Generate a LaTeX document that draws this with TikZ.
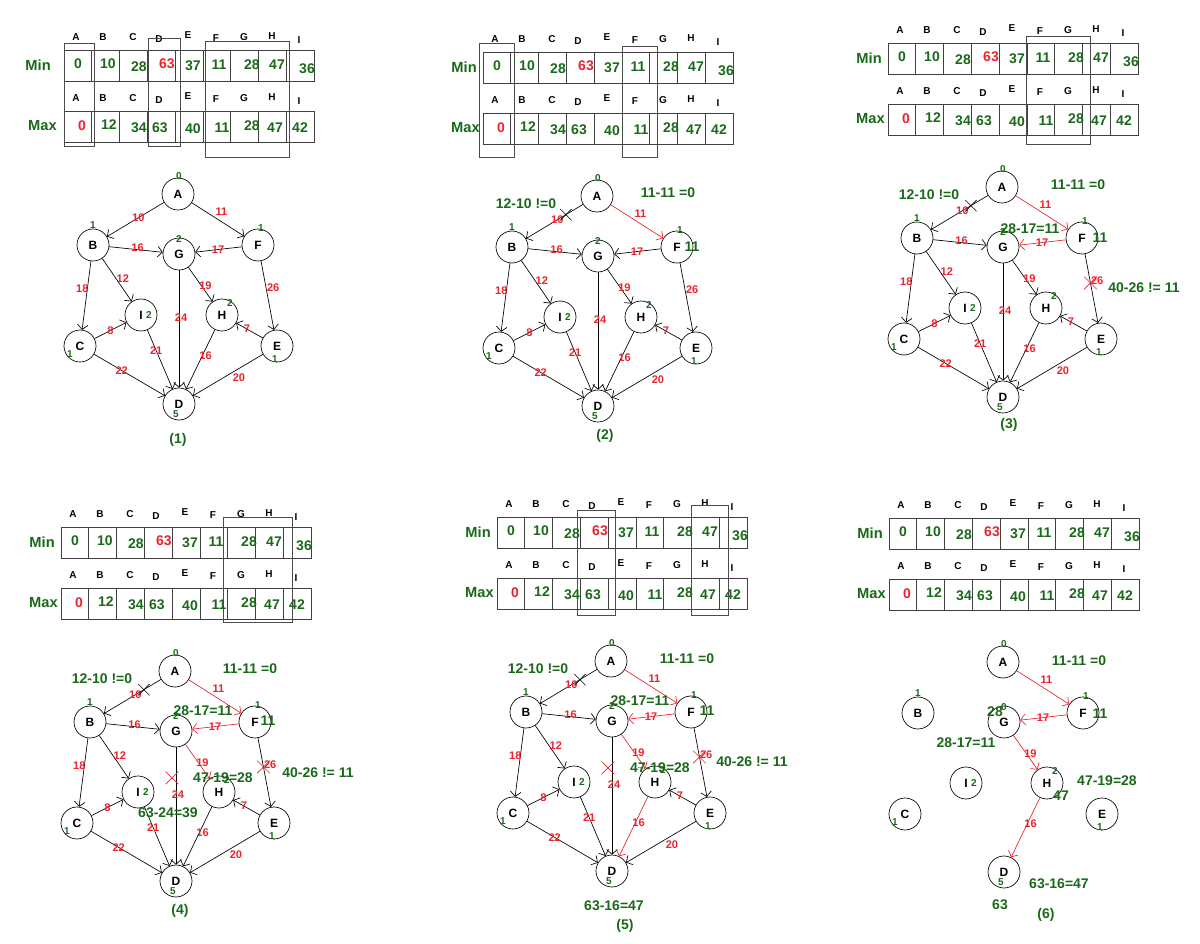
\documentclass[tikz,border=0pt]{standalone}
\usepackage{fontspec}
\setmainfont{Liberation Sans}
\usepackage{xcolor}
\usepackage{tikz}
\usetikzlibrary{arrows.meta,shapes.misc}

\definecolor{vgreen}{RGB}{25,105,25}
\definecolor{vred}{RGB}{235,35,45}

% colours of the edges on the critical path (set per panel)
\newcommand{\cAF}{black}
\newcommand{\cFG}{black}
\newcommand{\cGH}{black}
\newcommand{\cHD}{black}
\newcommand{\pn}{p1}
\newcommand{\minx}{-6}
\newcommand{\maxx}{-3}
\newcommand{\gnum}{2}

\tikzset{
  vert/.style={circle, draw, line width=0.5pt, minimum size=24pt, inner sep=0pt,
    font=\fontsize{9}{10}\selectfont\bfseries},
  deg/.style={text=vgreen, inner sep=0pt, font=\fontsize{7.5}{8}\selectfont\bfseries},
  link/.style={->, line width=0.5pt},
  elab/.style={text=vred, inner sep=0pt, font=\fontsize{8.3}{9}\selectfont\bfseries},
  cell/.style={draw=black!75, line width=0.5pt},
  hl/.style={draw=black!70, line width=0.5pt},
  hdr/.style={inner sep=0pt, font=\fontsize{7.5}{8}\selectfont\bfseries},
  val/.style={text=vgreen, inner sep=0pt, font=\fontsize{10.5}{12}\selectfont\bfseries},
  rowlab/.style={text=vgreen, inner sep=0pt, font=\fontsize{11}{12}\selectfont\bfseries},
  ann/.style={text=vgreen, inner sep=0pt, font=\fontsize{10.5}{12}\selectfont\bfseries},
  captxt/.style={text=vgreen, inner sep=0pt, font=\fontsize{10.5}{12}\selectfont\bfseries},
  xmark/.style={cross out, draw=vred, line width=0.5pt, minimum size=9pt, inner sep=0pt},
}

% Min / Max tables
\newcommand{\minmaxtables}{%
  \foreach \ry/\rn/\lx in {0/Min/\minx, 61/Max/\maxx}{
    \draw[cell] (0,\ry) rectangle (250,\ry+31);
    \foreach \k in {1,3,5,7}
      \draw[cell] ({27.78*\k},\ry) rectangle ({27.78*(\k+1)},\ry+31);
    \node[rowlab, anchor=east] (\pn\rn) at (\lx,\ry+15) {\rn};
    \foreach \l/\x/\dy in {A/12/0,B/39/0,C/69/0,D/95/2,E/124/-2,F/152/1,G/180/0,H/208/-1,I/235/3}
      \node[hdr] (\pn\rn\l) at (\x,\ry-13+\dy) {\l};
  }
  \foreach \v/\x/\y [count=\i] in {0/14/14, 10/44/14, 28/75/17, \textcolor{vred}{63}/103/14,
      37/129/16, 11/155/15, 28/188/15, 47/213/15, 36/243/19}
    \node[val] (\pn vmin\i) at (\x,\y) {\v};
  \foreach \v/\x/\y [count=\i] in {\textcolor{vred}{0}/18/76, 12/45/75, 34/75/78, 63/96/78,
      40/129/79, 11/158/78, 28/188/76, 47/211/78, 42/236/78}
    \node[val] (\pn vmax\i) at (\x,\y) {\v};
}

% the nine vertices with their in-degrees
\newcommand{\graphnodes}{%
  \foreach \n/\x/\y in {A/114/144, B/29/195, G/115/204, F/194/195, I/77/265,
      H/158/265, C/16/296, E/213/296, D/115/354}
    \node[vert] (\pn\n) at (\x,\y) {\n};
  \foreach \n/\dx/\dy/\k in {A/1/-18/0, B/0/-20/1, F/3/-17/1, G/0/-15/\gnum, I/8/0/2,
      H/8/-12/2, C/-10/8/1, E/-2/13/1, D/-3/10/5}
    \node[deg] (\pn d\n) at ([shift={(\dx,\dy)}]\pn\n) {\k};
}

% all fifteen weighted edges
\newcommand{\alledges}{%
  \foreach \ea/\eb/\w/\ps/\ec/\dx/\dy/\q [count=\i] in {%
      A/B/10/.45/black/0/0/.3,
      A/F/11/.47/\cAF/5/7/.5,
      B/G/16/.53/black/0/2/.5,
      F/G/17/.51/\cFG/0/0/.5,
      B/I/12/.53/black/5/3/.5,
      B/C/18/.40/black/-5/0/.5,
      G/H/19/.58/\cGH/3/2/.5,
      F/E/26/.40/black/7/1/.42,
      G/D/24/.40/black/2/0/.26,
      C/I/8/.50/black/0/0/.5,
      I/D/21/.35/black/0/0/.5,
      H/D/16/.43/\cHD/3/0/.5,
      E/H/7/.60/black/0/0/.5,
      C/D/22/.39/black/0/0/.5,
      E/D/20/.40/black/4/-7/.5}
    \draw[link, draw=\ec] (\pn\ea) -- coordinate[pos=\q] (\pn c\i)
      node[elab, pos=\ps, xshift={\dx*0.75pt}, yshift={\dy*0.75pt}] (\pn w\i) {\w} (\pn\eb);
}

\begin{document}
\begin{tikzpicture}[x=0.75pt, y=-0.75pt, >={Straight Barb[length=3.5pt,width=8pt]}]
\useasboundingbox (0,0) rectangle (1200,944);

% (1) start
\begin{scope}[shift={(64,50)}]
  \def\pn{p1}\def\minx{-13}\def\maxx{-7}
  \minmaxtables
  \draw[hl] (0,-7) rectangle (30,96);
  \draw[hl] (84,-12) rectangle (116,96);
  \draw[hl] (141,-9) rectangle (225,107);
  \graphnodes
  \alledges
  \node[captxt] (p1cap) at (114,390) {(1)};
\end{scope}

% (2) A -> F
\begin{scope}[shift={(483,52)}]
  \def\pn{p2}\def\cAF{vred}
  \minmaxtables
  \draw[hl] (-4,-9) rectangle (31,105);
  \draw[hl] (139,-6) rectangle (174,105);
  \graphnodes
  \alledges
  \node[xmark, draw=black, minimum size=8pt] (p2k1) at (p2c1) {};
  \node[ann] (p2n1) at (43,152) {12-10 !=0};
  \node[ann] (p2n2) at (185,141) {11-11 =0};
  \node[ann] (p2n3) at (209,195) {11};
  \node[captxt] (p2cap) at (122,384) {(2)};
\end{scope}

% (3) F -> G
\begin{scope}[shift={(888,43)}]
  \def\pn{p3}\def\cAF{vred}\def\cFG{vred}
  \minmaxtables
  \draw[hl] (138,-7) rectangle (202,101);
  \graphnodes
  \alledges
  \node[xmark, draw=black, minimum size=8pt] (p3k1) at (p3c1) {};
  \node[xmark] (p3k2) at (p3c8) {};
  \node[ann] (p3n1) at (41,152) {12-10 !=0};
  \node[ann] (p3n2) at (190,142) {11-11 =0};
  \node[ann] (p3n3) at (142,186) {28-17=11};
  \node[ann] (p3n4) at (212,195) {11};
  \node[ann] (p3n5) at (256,245) {40-26 != 11};
  \node[captxt] (p3cap) at (121,382) {(3)};
\end{scope}

% (4) G -> H
\begin{scope}[shift={(61,527)}]
  \def\pn{p4}\def\cAF{vred}\def\cFG{vred}\def\cGH{vred}
  \minmaxtables
  \draw[hl] (162,-10) rectangle (231,95);
  \graphnodes
  \alledges
  \node[xmark, draw=black, minimum size=8pt] (p4k1) at (p4c1) {};
  \node[xmark] (p4k2) at (p4c8) {};
  \node[xmark] (p4k3) at ([xshift=-3pt]p4c9) {};
  \node[ann] (p4n1) at (41,152) {12-10 !=0};
  \node[ann] (p4n2) at (189,142) {11-11 =0};
  \node[ann] (p4n3) at (142,184) {28-17=11};
  \node[ann] (p4n4) at (207,194) {11};
  \node[ann] (p4n5) at (257,246) {40-26 != 11};
  \node[ann] (p4n6) at (162,251) {47-19=28};
  \node[ann] (p4n7) at (107,286) {63-24=39};
  \node[captxt] (p4cap) at (119,384) {(4)};
\end{scope}

% (5) H -> D
\begin{scope}[shift={(497,517)}]
  \def\pn{p5}\def\cAF{vred}\def\cFG{vred}\def\cGH{vred}\def\cHD{vred}
  \minmaxtables
  \draw[hl] (80,-7) rectangle (118,98);
  \draw[hl] (194,-12) rectangle (231,98);
  \graphnodes
  \alledges
  \node[xmark, draw=black, minimum size=8pt] (p5k1) at (p5c1) {};
  \node[xmark] (p5k2) at (p5c8) {};
  \node[xmark] (p5k3) at ([xshift=-3pt]p5c9) {};
  \node[ann] (p5n1) at (41,152) {12-10 !=0};
  \node[ann] (p5n2) at (190,142) {11-11 =0};
  \node[ann] (p5n3) at (143,184) {28-17=11};
  \node[ann] (p5n4) at (210,194) {11};
  \node[ann] (p5n5) at (255,245) {40-26 != 11};
  \node[ann] (p5n6) at (163,251) {47-19=28};
  \node[ann] (p5n7) at (117,389) {63-16=47};
  \node[captxt] (p5cap) at (128,409) {(5)};
\end{scope}

% (6) critical path only
\begin{scope}[shift={(889,518)}]
  \def\pn{p6}\def\gnum{0}
  \minmaxtables
  \graphnodes
  \foreach \ea/\eb/\w/\ps/\dx/\dy [count=\i] in {A/F/11/.47/5/7, F/G/17/.51/0/0,
      G/H/19/.58/3/2, H/D/16/.43/3/0}
    \draw[link, draw=vred] (p6\ea) --
      node[elab, pos=\ps, xshift={\dx*0.75pt}, yshift={\dy*0.75pt}] (p6w\i) {\w} (p6\eb);
  \node[ann] (p6n1) at (190,143) {11-11 =0};
  \node[ann] (p6n2) at (211,196) {11};
  \node[ann] (p6n3) at (106,194) {28};
  \node[ann] (p6n4) at (77,225) {28-17=11};
  \node[ann] (p6n5) at (218,263) {47-19=28};
  \node[ann] (p6n6) at (172,278) {47};
  \node[ann] (p6n7) at (170,366) {63-16=47};
  \node[ann] (p6n8) at (111,387) {63};
  \node[captxt] (p6cap) at (157,397) {(6)};
\end{scope}

\end{tikzpicture}
\end{document}
